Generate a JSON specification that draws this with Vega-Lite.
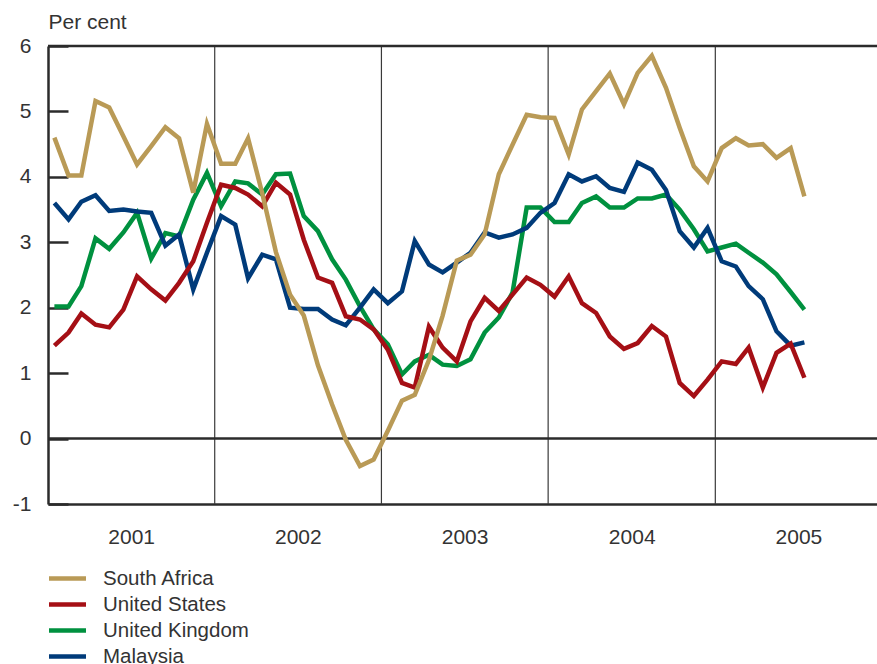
{
  "$schema": "https://vega.github.io/schema/vega-lite/v6.json",
  "width": 829,
  "height": 458,
  "autosize": {"type": "none"},
  "padding": {"left": 48, "top": 46, "right": 0, "bottom": 160},
  "background": "white",
  "config": {
    "view": {"stroke": null},
    "font": "Liberation Sans",
    "axis": {"grid": false, "labelColor": "#333", "titleColor": "#333", "labelFont": "Liberation Sans", "titleFont": "Liberation Sans"}
  },
  "resolve": {"scale": {"y": "independent"}, "axis": {"y": "independent"}},
  "layer": [
    {
      "data": {"values": [{"date": "2002-01-01"}, {"date": "2003-01-01"}, {"date": "2004-01-01"}, {"date": "2005-01-01"}]},
      "mark": {"type": "rule", "color": "#3a3a3a", "strokeWidth": 1.2},
      "encoding": {
        "x": {"field": "date", "type": "temporal", "title": null, "scale": {"type": "utc", "domain": [{"year": 2001, "month": 1, "date": 1, "utc": true}, {"year": 2005, "month": 12, "date": 21, "utc": true}]}}
      }
    },
    {
      "data": {"values": [{"value": 0}, {"value": 6}]},
      "mark": {"type": "rule", "color": "#2b2b2b", "strokeWidth": 2.5},
      "encoding": {
        "y": {
          "field": "value", "type": "quantitative", "title": null,
          "scale": {"domain": [-1, 6], "nice": false, "zero": false},
          "axis": {
            "orient": "left", "offset": -20, "values": [-1, 0, 1, 2, 3, 4, 5, 6],
            "domain": false, "labels": false, "ticks": true, "tickSize": 20, "tickWidth": 2.5, "tickColor": "#2b2b2b", "title": null
          }
        }
      }
    },
    {
      "data": {"values": [
        {"c":"United Kingdom","date":"2001-01-15","value":2.02},{"c":"United Kingdom","date":"2001-02-15","value":2.02},{"c":"United Kingdom","date":"2001-03-15","value":2.33},{"c":"United Kingdom","date":"2001-04-15","value":3.06},{"c":"United Kingdom","date":"2001-05-15","value":2.90},{"c":"United Kingdom","date":"2001-06-15","value":3.15},{"c":"United Kingdom","date":"2001-07-15","value":3.45},{"c":"United Kingdom","date":"2001-08-15","value":2.75},{"c":"United Kingdom","date":"2001-09-15","value":3.14},{"c":"United Kingdom","date":"2001-10-15","value":3.09},{"c":"United Kingdom","date":"2001-11-15","value":3.65},{"c":"United Kingdom","date":"2001-12-15","value":4.06},
        {"c":"United Kingdom","date":"2002-01-15","value":3.55},{"c":"United Kingdom","date":"2002-02-15","value":3.93},{"c":"United Kingdom","date":"2002-03-15","value":3.90},{"c":"United Kingdom","date":"2002-04-15","value":3.73},{"c":"United Kingdom","date":"2002-05-15","value":4.04},{"c":"United Kingdom","date":"2002-06-15","value":4.05},{"c":"United Kingdom","date":"2002-07-15","value":3.40},{"c":"United Kingdom","date":"2002-08-15","value":3.17},{"c":"United Kingdom","date":"2002-09-15","value":2.74},{"c":"United Kingdom","date":"2002-10-15","value":2.43},{"c":"United Kingdom","date":"2002-11-15","value":2.02},{"c":"United Kingdom","date":"2002-12-15","value":1.67},
        {"c":"United Kingdom","date":"2003-01-15","value":1.44},{"c":"United Kingdom","date":"2003-02-15","value":0.98},{"c":"United Kingdom","date":"2003-03-15","value":1.18},{"c":"United Kingdom","date":"2003-04-15","value":1.28},{"c":"United Kingdom","date":"2003-05-15","value":1.13},{"c":"United Kingdom","date":"2003-06-15","value":1.11},{"c":"United Kingdom","date":"2003-07-15","value":1.21},{"c":"United Kingdom","date":"2003-08-15","value":1.62},{"c":"United Kingdom","date":"2003-09-15","value":1.85},{"c":"United Kingdom","date":"2003-10-15","value":2.23},{"c":"United Kingdom","date":"2003-11-15","value":3.53},{"c":"United Kingdom","date":"2003-12-15","value":3.53},
        {"c":"United Kingdom","date":"2004-01-15","value":3.31},{"c":"United Kingdom","date":"2004-02-15","value":3.31},{"c":"United Kingdom","date":"2004-03-15","value":3.60},{"c":"United Kingdom","date":"2004-04-15","value":3.70},{"c":"United Kingdom","date":"2004-05-15","value":3.53},{"c":"United Kingdom","date":"2004-06-15","value":3.53},{"c":"United Kingdom","date":"2004-07-15","value":3.67},{"c":"United Kingdom","date":"2004-08-15","value":3.67},{"c":"United Kingdom","date":"2004-09-15","value":3.73},{"c":"United Kingdom","date":"2004-10-15","value":3.50},{"c":"United Kingdom","date":"2004-11-15","value":3.20},{"c":"United Kingdom","date":"2004-12-15","value":2.86},
        {"c":"United Kingdom","date":"2005-01-15","value":2.92},{"c":"United Kingdom","date":"2005-02-15","value":2.98},{"c":"United Kingdom","date":"2005-03-15","value":2.84},{"c":"United Kingdom","date":"2005-04-15","value":2.69},{"c":"United Kingdom","date":"2005-05-15","value":2.51},{"c":"United Kingdom","date":"2005-06-15","value":2.24},{"c":"United Kingdom","date":"2005-07-15","value":1.97},

        {"c":"Malaysia","date":"2001-01-15","value":3.60},{"c":"Malaysia","date":"2001-02-15","value":3.35},{"c":"Malaysia","date":"2001-03-15","value":3.62},{"c":"Malaysia","date":"2001-04-15","value":3.72},{"c":"Malaysia","date":"2001-05-15","value":3.48},{"c":"Malaysia","date":"2001-06-15","value":3.50},{"c":"Malaysia","date":"2001-07-15","value":3.47},{"c":"Malaysia","date":"2001-08-15","value":3.45},{"c":"Malaysia","date":"2001-09-15","value":2.95},{"c":"Malaysia","date":"2001-10-15","value":3.12},{"c":"Malaysia","date":"2001-11-15","value":2.28},{"c":"Malaysia","date":"2001-12-15","value":2.84},
        {"c":"Malaysia","date":"2002-01-15","value":3.40},{"c":"Malaysia","date":"2002-02-15","value":3.27},{"c":"Malaysia","date":"2002-03-15","value":2.45},{"c":"Malaysia","date":"2002-04-15","value":2.81},{"c":"Malaysia","date":"2002-05-15","value":2.74},{"c":"Malaysia","date":"2002-06-15","value":2.00},{"c":"Malaysia","date":"2002-07-15","value":1.98},{"c":"Malaysia","date":"2002-08-15","value":1.98},{"c":"Malaysia","date":"2002-09-15","value":1.82},{"c":"Malaysia","date":"2002-10-15","value":1.73},{"c":"Malaysia","date":"2002-11-15","value":2.00},{"c":"Malaysia","date":"2002-12-15","value":2.28},
        {"c":"Malaysia","date":"2003-01-15","value":2.07},{"c":"Malaysia","date":"2003-02-15","value":2.25},{"c":"Malaysia","date":"2003-03-15","value":3.02},{"c":"Malaysia","date":"2003-04-15","value":2.66},{"c":"Malaysia","date":"2003-05-15","value":2.54},{"c":"Malaysia","date":"2003-06-15","value":2.69},{"c":"Malaysia","date":"2003-07-15","value":2.84},{"c":"Malaysia","date":"2003-08-15","value":3.15},{"c":"Malaysia","date":"2003-09-15","value":3.07},{"c":"Malaysia","date":"2003-10-15","value":3.12},{"c":"Malaysia","date":"2003-11-15","value":3.22},{"c":"Malaysia","date":"2003-12-15","value":3.45},
        {"c":"Malaysia","date":"2004-01-15","value":3.60},{"c":"Malaysia","date":"2004-02-15","value":4.04},{"c":"Malaysia","date":"2004-03-15","value":3.93},{"c":"Malaysia","date":"2004-04-15","value":4.01},{"c":"Malaysia","date":"2004-05-15","value":3.83},{"c":"Malaysia","date":"2004-06-15","value":3.77},{"c":"Malaysia","date":"2004-07-15","value":4.22},{"c":"Malaysia","date":"2004-08-15","value":4.11},{"c":"Malaysia","date":"2004-09-15","value":3.80},{"c":"Malaysia","date":"2004-10-15","value":3.17},{"c":"Malaysia","date":"2004-11-15","value":2.92},{"c":"Malaysia","date":"2004-12-15","value":3.22},
        {"c":"Malaysia","date":"2005-01-15","value":2.71},{"c":"Malaysia","date":"2005-02-15","value":2.63},{"c":"Malaysia","date":"2005-03-15","value":2.33},{"c":"Malaysia","date":"2005-04-15","value":2.13},{"c":"Malaysia","date":"2005-05-15","value":1.64},{"c":"Malaysia","date":"2005-06-15","value":1.42},{"c":"Malaysia","date":"2005-07-15","value":1.47},

        {"c":"United States","date":"2001-01-15","value":1.42},{"c":"United States","date":"2001-02-15","value":1.62},{"c":"United States","date":"2001-03-15","value":1.91},{"c":"United States","date":"2001-04-15","value":1.74},{"c":"United States","date":"2001-05-15","value":1.70},{"c":"United States","date":"2001-06-15","value":1.97},{"c":"United States","date":"2001-07-15","value":2.48},{"c":"United States","date":"2001-08-15","value":2.28},{"c":"United States","date":"2001-09-15","value":2.11},{"c":"United States","date":"2001-10-15","value":2.38},{"c":"United States","date":"2001-11-15","value":2.71},{"c":"United States","date":"2001-12-15","value":3.30},
        {"c":"United States","date":"2002-01-15","value":3.88},{"c":"United States","date":"2002-02-15","value":3.83},{"c":"United States","date":"2002-03-15","value":3.73},{"c":"United States","date":"2002-04-15","value":3.55},{"c":"United States","date":"2002-05-15","value":3.91},{"c":"United States","date":"2002-06-15","value":3.73},{"c":"United States","date":"2002-07-15","value":3.04},{"c":"United States","date":"2002-08-15","value":2.46},{"c":"United States","date":"2002-09-15","value":2.38},{"c":"United States","date":"2002-10-15","value":1.87},{"c":"United States","date":"2002-11-15","value":1.82},{"c":"United States","date":"2002-12-15","value":1.67},
        {"c":"United States","date":"2003-01-15","value":1.36},{"c":"United States","date":"2003-02-15","value":0.85},{"c":"United States","date":"2003-03-15","value":0.78},{"c":"United States","date":"2003-04-15","value":1.71},{"c":"United States","date":"2003-05-15","value":1.39},{"c":"United States","date":"2003-06-15","value":1.18},{"c":"United States","date":"2003-07-15","value":1.79},{"c":"United States","date":"2003-08-15","value":2.15},{"c":"United States","date":"2003-09-15","value":1.95},{"c":"United States","date":"2003-10-15","value":2.20},{"c":"United States","date":"2003-11-15","value":2.46},{"c":"United States","date":"2003-12-15","value":2.35},
        {"c":"United States","date":"2004-01-15","value":2.17},{"c":"United States","date":"2004-02-15","value":2.48},{"c":"United States","date":"2004-03-15","value":2.07},{"c":"United States","date":"2004-04-15","value":1.92},{"c":"United States","date":"2004-05-15","value":1.56},{"c":"United States","date":"2004-06-15","value":1.37},{"c":"United States","date":"2004-07-15","value":1.46},{"c":"United States","date":"2004-08-15","value":1.72},{"c":"United States","date":"2004-09-15","value":1.56},{"c":"United States","date":"2004-10-15","value":0.85},{"c":"United States","date":"2004-11-15","value":0.65},{"c":"United States","date":"2004-12-15","value":0.90},
        {"c":"United States","date":"2005-01-15","value":1.18},{"c":"United States","date":"2005-02-15","value":1.14},{"c":"United States","date":"2005-03-15","value":1.39},{"c":"United States","date":"2005-04-15","value":0.78},{"c":"United States","date":"2005-05-15","value":1.31},{"c":"United States","date":"2005-06-15","value":1.45},{"c":"United States","date":"2005-07-15","value":0.93},

        {"c":"South Africa","date":"2001-01-15","value":4.60},{"c":"South Africa","date":"2001-02-15","value":4.02},{"c":"South Africa","date":"2001-03-15","value":4.02},{"c":"South Africa","date":"2001-04-15","value":5.16},{"c":"South Africa","date":"2001-05-15","value":5.06},{"c":"South Africa","date":"2001-06-15","value":4.62},{"c":"South Africa","date":"2001-07-15","value":4.19},{"c":"South Africa","date":"2001-08-15","value":4.47},{"c":"South Africa","date":"2001-09-15","value":4.76},{"c":"South Africa","date":"2001-10-15","value":4.59},{"c":"South Africa","date":"2001-11-15","value":3.76},{"c":"South Africa","date":"2001-12-15","value":4.81},
        {"c":"South Africa","date":"2002-01-15","value":4.20},{"c":"South Africa","date":"2002-02-15","value":4.20},{"c":"South Africa","date":"2002-03-15","value":4.59},{"c":"South Africa","date":"2002-04-15","value":3.75},{"c":"South Africa","date":"2002-05-15","value":2.85},{"c":"South Africa","date":"2002-06-15","value":2.20},{"c":"South Africa","date":"2002-07-15","value":1.88},{"c":"South Africa","date":"2002-08-15","value":1.12},{"c":"South Africa","date":"2002-09-15","value":0.52},{"c":"South Africa","date":"2002-10-15","value":-0.02},{"c":"South Africa","date":"2002-11-15","value":-0.42},{"c":"South Africa","date":"2002-12-15","value":-0.32},
        {"c":"South Africa","date":"2003-01-15","value":0.12},{"c":"South Africa","date":"2003-02-15","value":0.58},{"c":"South Africa","date":"2003-03-15","value":0.67},{"c":"South Africa","date":"2003-04-15","value":1.20},{"c":"South Africa","date":"2003-05-15","value":1.88},{"c":"South Africa","date":"2003-06-15","value":2.72},{"c":"South Africa","date":"2003-07-15","value":2.81},{"c":"South Africa","date":"2003-08-15","value":3.12},{"c":"South Africa","date":"2003-09-15","value":4.04},{"c":"South Africa","date":"2003-10-15","value":4.49},{"c":"South Africa","date":"2003-11-15","value":4.95},{"c":"South Africa","date":"2003-12-15","value":4.91},
        {"c":"South Africa","date":"2004-01-15","value":4.90},{"c":"South Africa","date":"2004-02-15","value":4.34},{"c":"South Africa","date":"2004-03-15","value":5.03},{"c":"South Africa","date":"2004-04-15","value":5.31},{"c":"South Africa","date":"2004-05-15","value":5.58},{"c":"South Africa","date":"2004-06-15","value":5.11},{"c":"South Africa","date":"2004-07-15","value":5.59},{"c":"South Africa","date":"2004-08-15","value":5.85},{"c":"South Africa","date":"2004-09-15","value":5.36},{"c":"South Africa","date":"2004-10-15","value":4.75},{"c":"South Africa","date":"2004-11-15","value":4.16},{"c":"South Africa","date":"2004-12-15","value":3.93},
        {"c":"South Africa","date":"2005-01-15","value":4.44},{"c":"South Africa","date":"2005-02-15","value":4.59},{"c":"South Africa","date":"2005-03-15","value":4.48},{"c":"South Africa","date":"2005-04-15","value":4.50},{"c":"South Africa","date":"2005-05-15","value":4.29},{"c":"South Africa","date":"2005-06-15","value":4.44},{"c":"South Africa","date":"2005-07-15","value":3.70}
      ]},
      "mark": {"type": "line", "strokeWidth": 4.5, "strokeJoin": "miter", "strokeCap": "butt"},
      "encoding": {
        "x": {
          "field": "date", "type": "temporal", "title": null,
          "scale": {"type": "utc", "domain": [{"year": 2001, "month": 1, "date": 1, "utc": true}, {"year": 2005, "month": 12, "date": 21, "utc": true}]},
          "axis": {
            "values": [{"year": 2001, "month": 7, "date": 2, "utc": true}, {"year": 2002, "month": 7, "date": 2, "utc": true}, {"year": 2003, "month": 7, "date": 2, "utc": true}, {"year": 2004, "month": 7, "date": 2, "utc": true}, {"year": 2005, "month": 7, "date": 2, "utc": true}],
            "labelExpr": "utcFormat(datum.value, '%Y')",
            "ticks": false, "domain": true, "domainColor": "#2b2b2b", "domainWidth": 2.5,
            "labelFontSize": 21, "labelPadding": 22, "labelFlush": false, "labelOverlap": false
          }
        },
        "y": {
          "field": "value", "type": "quantitative", "title": "Per cent",
          "scale": {"domain": [-1, 6], "nice": false, "zero": false},
          "axis": {
            "orient": "left",
            "values": [-1, 0, 1, 2, 3, 4, 5, 6],
            "labelExpr": "'' + datum.value",
            "domain": true, "domainColor": "#2b2b2b", "domainWidth": 2.5,
            "ticks": false,
            "labelFontSize": 21, "labelPadding": 17, "labelFlush": false, "labelOverlap": false,
            "titleAngle": 0, "titleAlign": "left", "titleBaseline": "alphabetic", "titleX": 0, "titleY": -18,
            "titleFontSize": 21, "titleFontWeight": "normal"
          }
        },
        "color": {
          "field": "c", "type": "nominal",
          "scale": {"domain": ["South Africa", "United States", "United Kingdom", "Malaysia"], "range": ["#B99A56", "#A50F15", "#00913F", "#003B7A"]},
          "legend": {
            "orient": "none", "legendX": 8, "legendY": 521, "title": null,
            "symbolType": "M-2,0H2", "symbolSize": 342, "symbolStrokeWidth": 4.5, "symbolFillColor": "transparent",
            "labelFontSize": 20.5, "labelColor": "#333", "labelOffset": 24, "rowPadding": 4
          }
        }
      }
    }
  ]
}
